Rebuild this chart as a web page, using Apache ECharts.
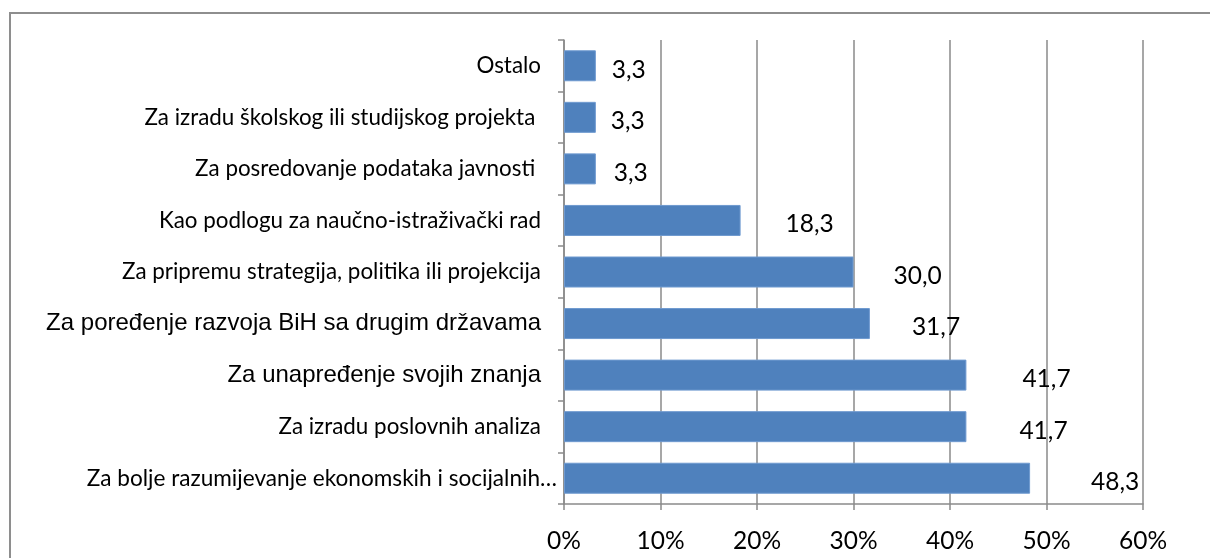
<!DOCTYPE html>
<html>
<head>
<meta charset="utf-8">
<script src="https://cdn.jsdelivr.net/npm/echarts@6/dist/echarts.min.js"></script>
<style>
  html, body { margin: 0; padding: 0; background: #fff; }
  #frame {
    position: absolute; left: 9px; top: 12px; width: 1220px; height: 560px;
    border-left: 2px solid #8e8e8e; border-top: 2px solid #8e8e8e;
  }
  #chart { position: absolute; left: 0; top: 0; width: 1210px; height: 558px; }
</style>
</head>
<body>
<div id="frame"></div>
<div id="chart"></div>
<script>
  // categories listed bottom to top, as the y axis draws them
  const categories = [
    'Za bolje razumijevanje ekonomskih i socijalnih…',
    'Za izradu poslovnih analiza',
    'Za unapređenje svojih znanja',
    'Za poređenje razvoja BiH sa drugim državama',
    'Za pripremu strategija, politika ili projekcija',
    'Kao podlogu za naučno-istraživački rad',
    'Za posredovanje podataka javnosti ',
    'Za izradu školskog ili studijskog projekta ',
    'Ostalo',
  ];
  const values = [48.3, 41.7, 41.7, 31.7, 30.0, 18.3, 3.3, 3.3, 3.3];
  const xTicks = [0, 10, 20, 30, 40, 50, 60];

  // how far each value label sits right of its bar (px)
  const labelGap = [61, 53, 56, 42, 40, 45, 18, 15, 16];
  // these two labels are set in a different font in the original
  const arialCats = ['Za unapređenje svojih znanja', 'Za poređenje razvoja BiH sa drugim državama'];

  const chart = echarts.init(document.getElementById('chart'));
  const gridColor = '#8a8a8a';

  chart.setOption({
    animation: false,
    grid: { left: 564, right: 67, top: 40, bottom: 54, containLabel: false },
    xAxis: {
      type: 'value',
      min: xTicks[0],
      max: xTicks[xTicks.length - 1],
      interval: 10,
      axisLine: { show: true, lineStyle: { color: gridColor, width: 1.5 } },
      axisTick: { show: true, length: 6, lineStyle: { color: gridColor, width: 1.5 } },
      splitLine: { show: true, lineStyle: { color: gridColor, width: 1.5 } },
      axisLabel: {
        margin: 25,
        color: '#000',
        fontFamily: 'Lato',
        fontSize: 24.5,
        formatter: (v) => v + '%',
      },
    },
    yAxis: {
      type: 'category',
      data: categories,
      axisLine: { show: true, lineStyle: { color: gridColor, width: 1.5 } },
      axisTick: { show: true, length: 6, lineStyle: { color: gridColor, width: 1.5 } },
      axisLabel: {
        margin: 7,
        color: '#000',
        formatter: (v) => {
          if (arialCats.includes(v)) return '{a|' + v + '}';
          if (v === categories[0]) return '{l|' + v + '}';
          return '{c|' + v + '}';
        },
        rich: {
          a: { fontFamily: 'Liberation Sans', fontSize: 24, color: '#000', padding: [0, 16, 0, 0] },
          c: { fontFamily: 'Lato', fontSize: 22.4, color: '#000', padding: [0, 16, 0, 0] },
          l: { fontFamily: 'Lato', fontSize: 22.6, color: '#000' },
        },
      },
    },
    series: [
      {
        type: 'bar',
        barWidth: 31,
        itemStyle: { color: '#4f81bd', borderColor: '#6f9ad0', borderWidth: 1 },
        data: values.map((v, i) => ({
          value: v,
          label: { distance: labelGap[i], offset: [0, 4] },
        })),
        label: {
          show: true,
          position: 'right',
          color: '#000',
          fontFamily: 'Lato',
          fontSize: 24.5,
          formatter: (p) => p.value.toFixed(1).replace('.', ','),
        },
      },
    ],
  });
</script>
</body>
</html>
